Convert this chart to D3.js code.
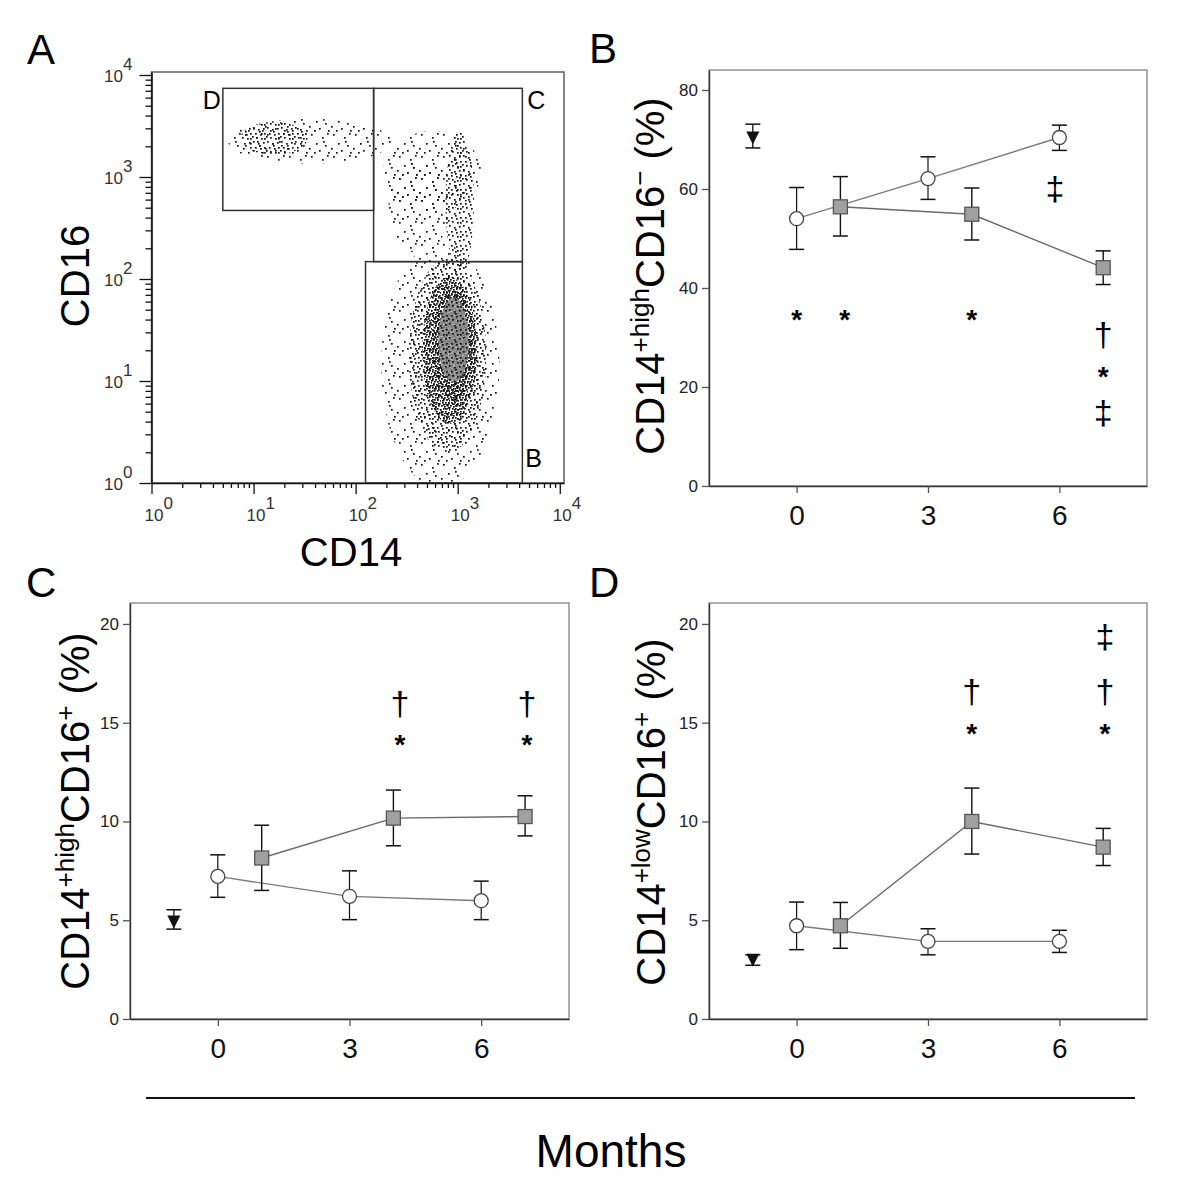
<!DOCTYPE html>
<html><head><meta charset="utf-8">
<script src="https://cdn.jsdelivr.net/npm/d3@7"></script>
<style>
body{margin:0;background:#fff}
svg{display:block;font-family:"Liberation Sans",Arial,sans-serif}
</style></head>
<body><svg id="c" width="1200" height="1200"></svg>
<script>
// ================= DATA =================
// Panel A: flow cytometry (CD14 vs CD16, log axes)
const flowDecades = [1, 10, 100, 1000, 10000];
const flowExponents = ["0", "1", "2", "3", "4"];
const gateNames = ["D", "C", "B"];
const gateCD14lo = [5, 150, 125];
const gateCD14hi = [150, 4300, 4300];
const gateCD16lo = [470, 148, 1];
const gateCD16hi = [7400, 7400, 148];
// cell populations: centre (log10 CD14, log10 CD16), half-extent in decades, density class
const popCD14 = [2.83, 2.90, 2.92, 2.95, 2.96, 2.96, 2.75, 2.62, 3.02, 1.55, 1.20];
const popCD16 = [1.15, 1.25, 1.30, 1.35, 1.40, 1.40, 3.05, 2.70, 2.75, 3.35, 3.38];
const popSpreadX = [0.58, 0.38, 0.27, 0.20, 0.15, 0.15, 0.48, 0.30, 0.14, 0.80, 0.33];
const popSpreadY = [1.20, 0.95, 0.72, 0.55, 0.42, 0.42, 0.40, 0.45, 0.70, 0.22, 0.16];
const popDensity = ["sparse", "medium", "dense", "dense2", "gray", "medium", "sparse", "sparse", "medium", "sparse", "medium"];

// Panels B–D: months
const monthTicks = [0, 3, 6];
const baselineMonth = [-1];
const controlMonths = [0, 3, 6];
const treatedMonths = [1, 4, 7];

// Panel B: CD14+high CD16− (%)
const bTicks = [0, 20, 40, 60, 80];
const bBaseMean = [70.4], bBaseLo = [68.3], bBaseHi = [73.1];
const bCtrlMean = [54.0, 62.1, 70.4], bCtrlLo = [47.8, 57.9, 67.8], bCtrlHi = [60.3, 66.5, 72.9];
const bTrtMean = [56.4, 54.9, 44.1], bTrtLo = [50.5, 49.7, 40.7], bTrtHi = [62.5, 60.2, 47.5];
const bMarkMonth = [0, 1.1, 4, 5.9, 7, 7, 7];
const bMarkValue = [34.85, 34.85, 34.85, 59.8, 30.3, 23.4, 14.6];
const bMarkSymbol = ["*", "*", "*", "‡", "†", "*", "‡"];

// Panel C: CD14+high CD16+ (%)
const cTicks = [0, 5, 10, 15, 20];
const cBaseMean = [4.94], cBaseLo = [4.55], cBaseHi = [5.53];
const cCtrlMean = [7.22, 6.21, 5.99], cCtrlLo = [6.16, 5.03, 5.03], cCtrlHi = [8.31, 7.50, 6.98];
const cTrtMean = [8.15, 10.17, 10.25], cTrtLo = [6.51, 8.77, 9.27], cTrtHi = [9.81, 11.59, 11.30];
const cMarkMonth = [4.15, 4.15, 7.04, 7.04];
const cMarkValue = [15.9, 14.2, 15.9, 14.2];
const cMarkSymbol = ["†", "*", "†", "*"];

// Panel D: CD14+low CD16+ (%)
const dTicks = [0, 5, 10, 15, 20];
const dBaseMean = [3.0], dBaseLo = [2.72], dBaseHi = [3.25];
const dCtrlMean = [4.72, 3.93, 3.93], dCtrlLo = [3.51, 3.25, 3.37], dCtrlHi = [5.92, 4.57, 4.49];
const dTrtMean = [4.72, 10.0, 8.7], dTrtLo = [3.58, 8.35, 7.77], dTrtHi = [5.90, 11.69, 9.65];
const dMarkMonth = [4, 4, 7.04, 7.04, 7.04];
const dMarkValue = [16.5, 14.75, 19.3, 16.5, 14.75];
const dMarkSymbol = ["†", "*", "‡", "†", "*"];

const xAxisTitle = "Months";

// ================= DRAWING =================
const svg = d3.select("#c");
const defs = svg.append("defs");

// dot textures for the flow plot (style only)
const textures = {
  sparse: {size: 22, fill: "#111", dots: [[3,2],[14,5],[19,1],[8,11],[17,13],[1,16],[11,18],[20,20],[6,20],[15,9]]},
  medium: {size: 14, fill: "#111", dots: [[1,1],[6,3],[11,2],[12,7],[3,7],[8,8],[12,12],[4,11],[9,12],[0,10],[7,5]]},
  dense:  {size: 9,  fill: "#111", dots: [[0,0],[3,1],[6,0],[2,3],[5,3],[8,4],[1,6],[4,6],[7,7],[3,8],[6,8]]},
  dense2: {size: 8,  fill: "#111", dots: [[1,2],[5,0],[7,4],[3,5],[0,6],[6,7]]},
  gray:   {size: 7,  fill: "#7d7d7d", dots: [[0,1],[3,0],[5,3],[2,4],[6,6],[1,6],[4,5]], bg: "#9a9a9a"}
};
Object.entries(textures).forEach(([k, t]) => {
  const p = defs.append("pattern").attr("id", "tex-" + k)
    .attr("patternUnits", "userSpaceOnUse").attr("width", t.size).attr("height", t.size);
  if (t.bg) p.append("rect").attr("width", t.size).attr("height", t.size).attr("fill", t.bg).attr("opacity", 0.8);
  t.dots.forEach(d => p.append("rect").attr("x", d[0]).attr("y", d[1]).attr("width", 1.7).attr("height", 1.7).attr("fill", t.fill));
});

function panelLetter(txt, x, y) {
  svg.append("text").attr("x", x).attr("y", y).attr("font-size", 42).attr("fill", "#000").text(txt);
}

// ---------- Panel A ----------
(function () {
  const L = 151.5, R = 564, T = 72, B = 483;
  const x = d3.scaleLog().domain([1, 11000]).range([L, R]);
  const y = d3.scaleLog().domain([1, 10700]).range([B, T]);
  const g = svg.append("g");
  defs.append("clipPath").attr("id", "clipA").append("rect")
    .attr("x", L).attr("y", T).attr("width", R - L).attr("height", B - T);

  const pg = g.append("g").attr("clip-path", "url(#clipA)");
  popCD14.forEach((cx, i) => {
    const px = x(Math.pow(10, cx)), py = y(Math.pow(10, popCD16[i]));
    const rx = x(Math.pow(10, cx + popSpreadX[i])) - px;
    const ry = py - y(Math.pow(10, popCD16[i] + popSpreadY[i]));
    pg.append("ellipse").attr("cx", px).attr("cy", py).attr("rx", rx).attr("ry", ry)
      .attr("fill", "url(#tex-" + popDensity[i] + ")");
  });

  // gates
  gateNames.forEach((n, i) => {
    const x0 = x(gateCD14lo[i]), x1 = x(gateCD14hi[i]);
    const y0 = y(gateCD16hi[i]), y1 = y(gateCD16lo[i]);
    g.append("rect").attr("x", x0).attr("y", y0).attr("width", x1 - x0).attr("height", y1 - y0)
      .attr("fill", "none").attr("stroke", "#333").attr("stroke-width", 1.5);
  });
  g.append("text").attr("x", x(gateCD14lo[0]) - 20).attr("y", y(gateCD16hi[0]) + 21).attr("font-size", 25).text(gateNames[0]);
  g.append("text").attr("x", x(gateCD14hi[1]) + 5).attr("y", y(gateCD16hi[1]) + 21).attr("font-size", 25).text(gateNames[1]);
  g.append("text").attr("x", x(gateCD14hi[2]) + 3).attr("y", y(gateCD16lo[2]) - 16).attr("font-size", 25).text(gateNames[2]);

  // frame
  g.append("rect").attr("x", L).attr("y", T).attr("width", R - L).attr("height", B - T)
    .attr("fill", "none").attr("stroke", "#555").attr("stroke-width", 1.4);

  const minors = [];
  flowDecades.slice(0, 4).forEach(d => { for (let m = 2; m <= 9; m++) minors.push(d * m); });

  const ax = g.append("g").attr("transform", `translate(0,${B})`);
  ax.call(d3.axisBottom(x).tickValues(flowDecades).tickSize(11).tickSizeOuter(0).tickFormat(""));
  ax.append("g").call(d3.axisBottom(x).tickValues(minors).tickSize(5).tickFormat("")).select(".domain").remove();
  const ay = g.append("g").attr("transform", `translate(${L},0)`);
  ay.call(d3.axisLeft(y).tickValues(flowDecades).tickSize(12).tickSizeOuter(0).tickFormat(""));
  ay.append("g").call(d3.axisLeft(y).tickValues(minors).tickSize(6).tickFormat("")).select(".domain").remove();
  g.selectAll(".domain").attr("stroke", "#111").attr("stroke-width", 1.6);
  g.selectAll(".tick line").attr("stroke", "#111").attr("stroke-width", 1.3);

  flowDecades.forEach((v, i) => {
    const t = g.append("text").attr("x", x(v) - 7).attr("y", B + 38).attr("font-size", 17).attr("fill", "#333");
    t.append("tspan").text("10");
    t.append("tspan").attr("dy", -12).text(flowExponents[i]);
    const t2 = g.append("text").attr("x", L - 19).attr("y", y(v) + 7).attr("font-size", 17)
      .attr("fill", "#333").attr("text-anchor", "end");
    t2.append("tspan").text("10");
    t2.append("tspan").attr("dy", -12).text(flowExponents[i]);
  });

  g.append("text").attr("transform", "translate(89,276) rotate(-90)").attr("text-anchor", "middle")
    .attr("font-size", 40).text("CD16");
  g.append("text").attr("x", 351).attr("y", 566).attr("text-anchor", "middle")
    .attr("font-size", 40).text("CD14");
  panelLetter("A", 27, 64);
})();

// ---------- Panels B, C, D ----------
function linePanel(o) {
  const g = svg.append("g");
  const x = d3.scaleLinear().domain([-2, 8]).range([o.L, o.R]);
  const y = d3.scaleLinear().domain([0, o.ymax]).range([o.B, o.T]);

  g.append("rect").attr("x", o.L).attr("y", o.T).attr("width", o.R - o.L).attr("height", o.B - o.T)
    .attr("fill", "none").attr("stroke", "#8a8a8a").attr("stroke-width", 1.4);

  const ay = g.append("g").attr("transform", `translate(${o.L},0)`)
    .call(d3.axisLeft(y).tickValues(o.ticks).tickSize(7).tickSizeOuter(0).tickPadding(4));
  ay.selectAll("text").attr("font-size", 17).attr("fill", "#222").attr("font-family", "Liberation Sans, Arial, sans-serif");
  const ax = g.append("g").attr("transform", `translate(0,${o.B})`)
    .call(d3.axisBottom(x).tickValues(monthTicks).tickSize(7).tickSizeOuter(0).tickPadding(12));
  ax.selectAll("text").attr("font-size", 28).attr("fill", "#111").attr("font-family", "Liberation Sans, Arial, sans-serif");
  g.selectAll(".domain").attr("stroke", "#333").attr("stroke-width", 1.4);
  g.selectAll(".tick line").attr("stroke", "#555").attr("stroke-width", 1.3);

  const line = d3.line().x(d => x(d[0])).y(d => y(d[1]));
  const ctrl = controlMonths.map((m, i) => [m, o.ctrlMean[i]]);
  const trt = treatedMonths.map((m, i) => [m, o.trtMean[i]]);
  g.append("path").attr("d", line(ctrl)).attr("fill", "none").attr("stroke", "#7a7a7a").attr("stroke-width", 1.4);
  g.append("path").attr("d", line(trt)).attr("fill", "none").attr("stroke", "#6a6a6a").attr("stroke-width", 1.4);

  function errBars(months, lo, hi, w) {
    months.forEach((m, i) => {
      const xx = x(m);
      g.append("line").attr("x1", xx).attr("x2", xx).attr("y1", y(lo[i])).attr("y2", y(hi[i]))
        .attr("stroke", "#111").attr("stroke-width", w);
      [lo[i], hi[i]].forEach(v => g.append("line").attr("x1", xx - 7.5).attr("x2", xx + 7.5)
        .attr("y1", y(v)).attr("y2", y(v)).attr("stroke", "#111").attr("stroke-width", 1.5));
    });
  }
  errBars(baselineMonth, o.baseLo, o.baseHi, 1.3);
  errBars(controlMonths, o.ctrlLo, o.ctrlHi, 1.2);
  errBars(treatedMonths, o.trtLo, o.trtHi, 1.4);

  // markers
  baselineMonth.forEach((m, i) => {
    const cx = x(m), cy = y(o.baseMean[i]);
    g.append("path").attr("d", `M${cx - 6.5},${cy - 6}L${cx + 6.5},${cy - 6}L${cx},${cy + 7}Z`).attr("fill", "#111");
  });
  controlMonths.forEach((m, i) => {
    g.append("circle").attr("cx", x(m)).attr("cy", y(o.ctrlMean[i])).attr("r", 7)
      .attr("fill", "#fff").attr("stroke", "#444").attr("stroke-width", 1.3);
  });
  treatedMonths.forEach((m, i) => {
    g.append("rect").attr("x", x(m) - 7).attr("y", y(o.trtMean[i]) - 7).attr("width", 14).attr("height", 14)
      .attr("fill", "#a0a0a0").attr("stroke", "#555").attr("stroke-width", 1.3);
  });

  // significance marks
  o.markMonth.forEach((m, i) => {
    const s = o.markSymbol[i];
    const star = s === "*";
    const fs = star ? 28 : 34;
    const off = star ? 0.56 : 0.29;
    g.append("text").attr("x", x(m)).attr("y", y(o.markValue[i]) + off * fs)
      .attr("text-anchor", "middle").attr("font-size", fs).attr("font-weight", star ? "bold" : "normal")
      .attr("fill", "#000").text(s);
  });

  // y label
  const t = g.append("text").attr("transform", `translate(${o.labX},${o.labY}) rotate(-90)`)
    .attr("text-anchor", "middle").attr("font-size", 40).attr("fill", "#000");
  t.append("tspan").text("CD14");
  t.append("tspan").attr("font-size", 26).attr("dy", -15).text(o.sup1);
  t.append("tspan").attr("dy", 15).text("CD16");
  t.append("tspan").attr("font-size", 26).attr("dy", -15).text(o.sup2);
  t.append("tspan").attr("dy", 15).text(" (%)");

  panelLetter(o.letter, o.letterX, o.letterY);
}

linePanel({L: 709, R: 1147, T: 70, B: 486, ymax: 84.04, ticks: bTicks,
  baseMean: bBaseMean, baseLo: bBaseLo, baseHi: bBaseHi,
  ctrlMean: bCtrlMean, ctrlLo: bCtrlLo, ctrlHi: bCtrlHi,
  trtMean: bTrtMean, trtLo: bTrtLo, trtHi: bTrtHi,
  markMonth: bMarkMonth, markValue: bMarkValue, markSymbol: bMarkSymbol,
  sup1: "+high", sup2: "−", labX: 664, labY: 276, letter: "B", letterX: 589, letterY: 63});

linePanel({L: 130, R: 569, T: 603, B: 1019, ymax: 21.06, ticks: cTicks,
  baseMean: cBaseMean, baseLo: cBaseLo, baseHi: cBaseHi,
  ctrlMean: cCtrlMean, ctrlLo: cCtrlLo, ctrlHi: cCtrlHi,
  trtMean: cTrtMean, trtLo: cTrtLo, trtHi: cTrtHi,
  markMonth: cMarkMonth, markValue: cMarkValue, markSymbol: cMarkSymbol,
  sup1: "+high", sup2: "+", labX: 89, labY: 811, letter: "C", letterX: 26, letterY: 597});

linePanel({L: 709, R: 1147, T: 603, B: 1019, ymax: 21.06, ticks: dTicks,
  baseMean: dBaseMean, baseLo: dBaseLo, baseHi: dBaseHi,
  ctrlMean: dCtrlMean, ctrlLo: dCtrlLo, ctrlHi: dCtrlHi,
  trtMean: dTrtMean, trtLo: dTrtLo, trtHi: dTrtHi,
  markMonth: dMarkMonth, markValue: dMarkValue, markSymbol: dMarkSymbol,
  sup1: "+low", sup2: "+", labX: 665, labY: 812, letter: "D", letterX: 589, letterY: 597});

// common x title
svg.append("line").attr("x1", 146).attr("x2", 1135).attr("y1", 1098).attr("y2", 1098)
  .attr("stroke", "#111").attr("stroke-width", 2);
svg.append("text").attr("x", 611).attr("y", 1167).attr("text-anchor", "middle")
  .attr("font-size", 46).attr("fill", "#000").text(xAxisTitle);
</script>
</body></html>
